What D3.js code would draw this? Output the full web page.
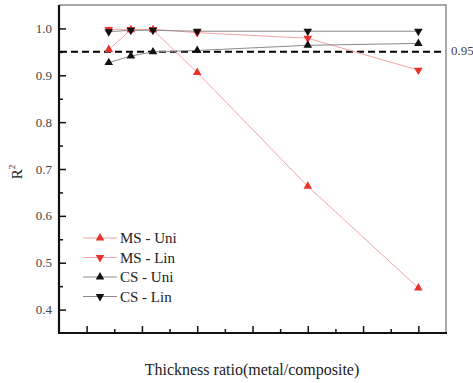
<!DOCTYPE html>
<html>
<head>
<meta charset="utf-8">
<script src="https://cdn.jsdelivr.net/npm/d3@7"></script>
<style>
  body { margin: 0; background: #fff; }
  svg text { font-family: "Liberation Serif", "Times New Roman", serif; }
</style>
</head>
<body>
<svg id="chart" width="473" height="383"></svg>
<script>
// data
const ratios = [0.2, 0.4, 0.6, 1.0, 2.0, 3.0];
const msUni = [0.955, 0.997, 0.997, 0.906, 0.663, 0.446];
const msLin = [0.998, 0.998, 0.998, 0.991, 0.979, 0.911];
const csUni = [0.927, 0.941, 0.950, 0.953, 0.964, 0.968];
const csLin = [0.993, 0.996, 0.996, 0.994, 0.994, 0.994];
const yTicks = [0.4, 0.5, 0.6, 0.7, 0.8, 0.9, 1.0];
const threshold = 0.95;

const series = [
  { name: "MS - Uni", values: msUni, line: "#f5a3a3", fill: "#e8322c", up: true },
  { name: "MS - Lin", values: msLin, line: "#f5a3a3", fill: "#e8322c", up: false },
  { name: "CS - Uni", values: csUni, line: "#8c8c8c", fill: "#111", up: true },
  { name: "CS - Lin", values: csLin, line: "#8c8c8c", fill: "#111", up: false }
];

const svg = d3.select("#chart");
const mLeft = 59, mRight = 446, mTop = 5, mBottom = 333;

const x = d3.scaleLinear().domain([-0.25, 3.25]).range([mLeft, mRight]);
const y = d3.scaleLinear().domain([0.35, 1.05]).range([mBottom, mTop]);

// frame top/right
svg.append("path")
  .attr("d", `M${mLeft},${mTop}H${mRight}V${mBottom}`)
  .attr("fill", "none")
  .attr("stroke", "#8a8a8a")
  .attr("stroke-width", 1.5);

// y axis
const yAxis = svg.append("g").attr("transform", `translate(${mLeft},0)`);
yAxis.call(d3.axisLeft(y).tickValues(d3.range(0.4, 1.0001, 0.05)).tickSize(-6).tickFormat(""))
yAxis.selectAll(".tick line").attr("stroke", "#111").attr("stroke-width", 1.5)
  .attr("x2", (d, i) => i % 2 == 0 ? 7 : 4);
yAxis.select(".domain").remove();
yAxis.selectAll(".yl").data(yTicks).enter().append("text")
  .attr("class", "yl")
  .attr("x", -7).attr("y", d => y(d) + 4.5)
  .attr("text-anchor", "end")
  .attr("font-size", 13).attr("fill", "#444")
  .text(d => d.toFixed(1));

// x axis, no labels
const xAxis = svg.append("g").attr("transform", `translate(0,${mBottom})`);
xAxis.call(d3.axisBottom(x).tickValues(d3.range(0, 3.001, 0.25)).tickSize(-6).tickFormat(""));
xAxis.select(".domain").remove();
xAxis.selectAll(".tick line").attr("stroke", "#111").attr("stroke-width", 1.5)
  .attr("y2", (d, i) => i % 2 == 0 ? -7 : -4);

svg.append("path")
  .attr("d", `M${mLeft},${mTop}V${mBottom}H${mRight + 1}`)
  .attr("fill", "none")
  .attr("stroke", "#111")
  .attr("stroke-width", 2.2);

// threshold line
svg.append("line")
  .attr("x1", mLeft + 1).attr("x2", mRight - 5)
  .attr("y1", y(threshold)).attr("y2", y(threshold))
  .attr("stroke", "#000").attr("stroke-width", 2)
  .attr("stroke-dasharray", "7,4");
svg.append("text")
  .attr("x", 451).attr("y", y(threshold) + 3)
  .attr("font-size", 13).attr("fill", "#444")
  .text("0.95");

const line = d3.line().x((d, i) => x(ratios[i])).y(d => y(d));
const tri = d3.symbol().type(d3.symbolTriangle).size(32);

series.forEach(s => {
  svg.append("path")
    .datum(s.values)
    .attr("d", line)
    .attr("fill", "none")
    .attr("stroke", s.line)
    .attr("stroke-width", 1);
});
series.forEach(s => {
  svg.selectAll(null).data(s.values).enter().append("path")
    .attr("d", tri)
    .attr("transform", (d, i) => `translate(${x(ratios[i])},${y(d)}) rotate(${s.up ? 0 : 180})`)
    .attr("fill", s.fill);
});

// legend
const legend = svg.append("g");
series.forEach((s, i) => {
  const ly = 238 + i * 19.5;
  legend.append("line").attr("x1", 83).attr("x2", 117).attr("y1", ly).attr("y2", ly)
    .attr("stroke", s.line).attr("stroke-width", 1);
  legend.append("path").attr("d", tri)
    .attr("transform", `translate(100,${ly}) rotate(${s.up ? 0 : 180})`)
    .attr("fill", s.fill);
  legend.append("text").attr("x", 120).attr("y", ly + 5)
    .attr("font-size", 15).attr("fill", "#222")
    .text(s.name);
});

// axis titles
svg.append("text")
  .attr("x", 252).attr("y", 375)
  .attr("text-anchor", "middle")
  .attr("font-size", 16).attr("fill", "#222")
  .text("Thickness ratio(metal/composite)");

const yt = svg.append("text")
  .attr("transform", "translate(22,172) rotate(-90)")
  .attr("text-anchor", "middle")
  .attr("font-size", 15).attr("fill", "#222");
yt.append("tspan").text("R");
yt.append("tspan").attr("font-size", 9).attr("dy", -7).text("2");
</script>
</body>
</html>
